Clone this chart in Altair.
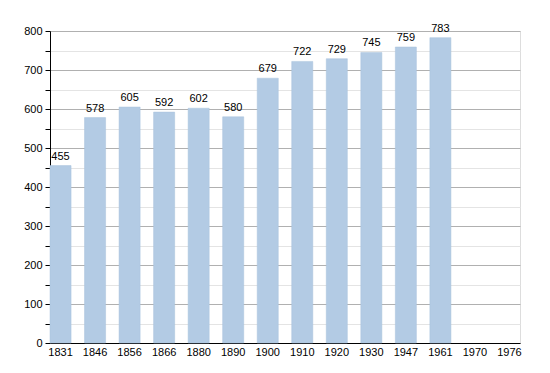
import altair as alt
import pandas as pd

years = ["1831", "1846", "1856", "1866", "1880", "1890", "1900", "1910", "1920", "1930", "1947", "1961", "1970", "1976"]
bar_years = ["1831", "1846", "1856", "1866", "1880", "1890", "1900", "1910", "1920", "1930", "1947", "1961"]
population = [455, 578, 605, 592, 602, 580, 679, 722, 729, 745, 759, 783]

df = pd.DataFrame({"year": bar_years, "pop": population})

font = "Liberation Sans"

x = alt.X("year:N", sort=years,
          scale=alt.Scale(domain=years, paddingInner=0.39, paddingOuter=0.0),
          axis=alt.Axis(title=None, labelAngle=0, ticks=False, domainColor="black",
                        labelColor="black", labelFontSize=11, labelFont=font, labelPadding=3,
                        grid=False, labelOverlap=False))
y = alt.Y("pop:Q",
          scale=alt.Scale(domain=[0, 800], nice=False),
          axis=alt.Axis(title=None, values=list(range(0, 801, 50)), labelOverlap=False,
                        labelExpr="datum.value % 100 === 0 ? datum.label : ''",
                        gridColor={"condition": {"test": "datum.value % 100 === 0", "value": "#b0b0b0"}, "value": "#e4e4e4"},
                        domainColor="black", tickColor="black", tickSize=5,
                        labelColor="black", labelFontSize=11, labelFont=font, labelPadding=3))

bars = alt.Chart(df).mark_bar(color="#b3cbe4", stroke="#a9c2dc", strokeWidth=0.5).encode(x=x, y=y)
text = alt.Chart(df).mark_text(dy=-9, fontSize=11, font=font, color="black").encode(
    x=x, y=y, text="pop:Q")

chart = (bars + text).properties(
    width=470, height=312,
    autosize=alt.AutoSizeParams(type="none"),
    padding={"left": 42, "top": 23, "right": 22, "bottom": 22},
).configure_view(stroke=None).configure(background="white")

chart.save("out.html", embed_options={"renderer": "svg", "actions": False})
